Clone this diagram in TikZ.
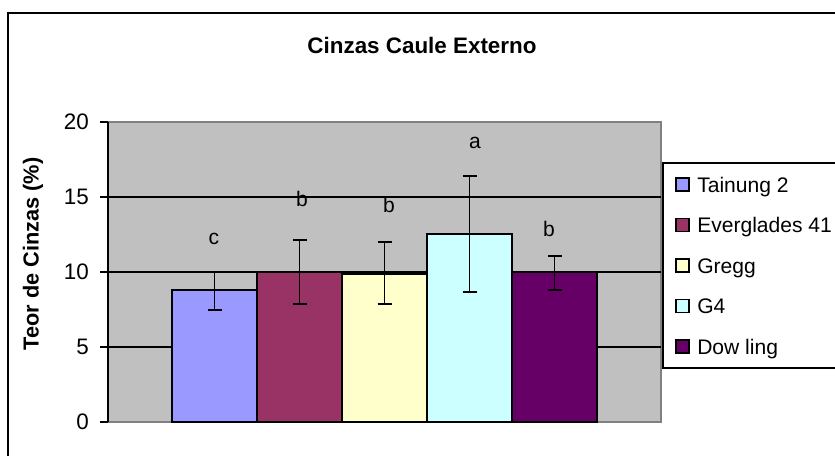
\documentclass[tikz,border=0pt]{standalone}
\usepackage{fontspec}
\setmainfont{Liberation Sans}

\definecolor{plotfill}{HTML}{C0C0C0}
\definecolor{plotedge}{HTML}{808080}
\definecolor{bartai}{HTML}{9999FF}
\definecolor{bareve}{HTML}{993366}
\definecolor{bargre}{HTML}{FFFFCC}
\definecolor{barg}{HTML}{CCFFFF}
\definecolor{bardow}{HTML}{660066}

\begin{document}
\begin{tikzpicture}[x=0.75pt,y=-0.75pt,
	lbl/.style={font=\fontsize{15.8}{18}\selectfont, inner sep=0pt},
	frame/.style={line width=1.5pt},
	grid/.style={line width=1.1pt},
	bar/.style={draw=black, line width=1.1pt},
	errbar/.style={line width=1.3pt}]
	
	\useasboundingbox (0,0) rectangle (835,455);
	\clip (0,0) rectangle (835,455);
	\fill[white] (0,0) rectangle (835,455);
	
	\draw[frame] (8,470) -- (8,13) -- (850,13);
	\node[lbl, font=\fontsize{16.8}{18}\selectfont\bfseries] (title) at (422,45) {Cinzas Caule Externo};
	\node[lbl, font=\fontsize{16.3}{18}\selectfont\bfseries, rotate=90] (ylabel) at (33,254) {Teor de Cinzas (\%)};
	
	\begin{scope}[shift={(0,422)}, yscale=-15]
		\fill[plotfill] (108,0) rectangle (661,20);
		\draw[plotedge, line width=1.3pt] (108,20) -- (661,20) -- (661,0) -- (108,0);
		\foreach \v in {5,10,15}
			\draw[grid] (108,\v) -- (661,\v);
		\foreach \v in {0,5,...,20} {
			\draw[grid] (100,\v) -- (108,\v);
			\node[lbl, font=\fontsize{16.8}{18}\selectfont, anchor=east] (tick\v) at (89,\v) {\v};
		}
		\draw[grid] (108,0) -- (108,20);
		
		\foreach \i/\val/\lo/\up/\col/\sig/\lx/\ly in {1/8.8/7.47/10.0/bartai/c/214/12.2, 2/10.0/7.87/12.13/bareve/b/302/14.87, 3/9.87/7.87/12.0/bargre/b/389/14.47, 4/12.53/8.67/16.4/barg/a/475/18.6, 5/10.0/8.8/11.07/bardow/b/549/12.87} {
			\pgfmathsetmacro\bx{172+85*(\i-1)}
			\pgfmathsetmacro\cx{\bx+42.5}
			\draw[bar, fill=\col] (\bx,0) rectangle +(85,\val);
			\draw[errbar] (\cx,\lo) -- (\cx,\up)
				(\cx-7,\lo) -- (\cx+7,\lo)
				(\cx-7,\up) -- (\cx+7,\up);
			\node[lbl] (sig\i) at (\lx,\ly) {\sig};
		}
	\end{scope}
	
	\draw[grid] (663,163) rectangle (850,368);
	\foreach \i/\col/\name in {1/bartai/Tainung 2, 2/bareve/Everglades 41, 3/bargre/Gregg, 4/barg/G4, 5/bardow/Dow ling} {
		\pgfmathsetmacro\by{192+40.5*(\i-1)}
		\draw[line width=1.1pt, fill=\col] (676,\by-14) rectangle (689,\by-1);
		\node[lbl, anchor=base west] (key\i) at (697,\by) {\name};
	}
	
\end{tikzpicture}
\end{document}
